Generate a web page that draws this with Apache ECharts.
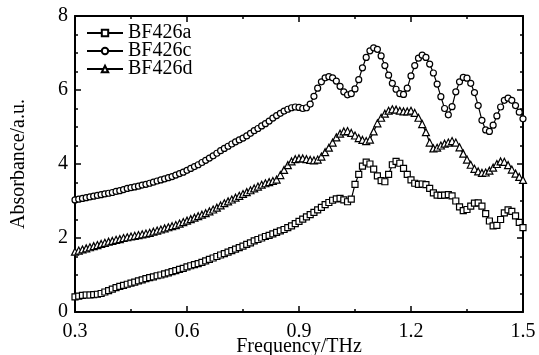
<!DOCTYPE html>
<html>
<head>
<meta charset="utf-8">
<script src="https://cdn.jsdelivr.net/npm/echarts@6/dist/echarts.min.js"></script>
<style>
  html, body { margin: 0; padding: 0; background: #fff; }
  #chart { width: 539px; height: 355px; }
</style>
</head>
<body>
<div id="chart"></div>
<script>
const freq = [
  0.30, 0.31, 0.32, 0.33, 0.34, 0.35, 0.36, 0.37, 0.38, 0.39,
  0.40, 0.41, 0.42, 0.43, 0.44, 0.45, 0.46, 0.47, 0.48, 0.49,
  0.50, 0.51, 0.52, 0.53, 0.54, 0.55, 0.56, 0.57, 0.58, 0.59,
  0.60, 0.61, 0.62, 0.63, 0.64, 0.65, 0.66, 0.67, 0.68, 0.69,
  0.70, 0.71, 0.72, 0.73, 0.74, 0.75, 0.76, 0.77, 0.78, 0.79,
  0.80, 0.81, 0.82, 0.83, 0.84, 0.85, 0.86, 0.87, 0.88, 0.89,
  0.90, 0.91, 0.92, 0.93, 0.94, 0.95, 0.96, 0.97, 0.98, 0.99,
  1.00, 1.01, 1.02, 1.03, 1.04, 1.05, 1.06, 1.07, 1.08, 1.09,
  1.10, 1.11, 1.12, 1.13, 1.14, 1.15, 1.16, 1.17, 1.18, 1.19,
  1.20, 1.21, 1.22, 1.23, 1.24, 1.25, 1.26, 1.27, 1.28, 1.29,
  1.30, 1.31, 1.32, 1.33, 1.34, 1.35, 1.36, 1.37, 1.38, 1.39,
  1.40, 1.41, 1.42, 1.43, 1.44, 1.45, 1.46, 1.47, 1.48, 1.49,
  1.50
]

// BF426a (squares)
const bf426a = [
  0.41, 0.43, 0.45, 0.46, 0.46, 0.47, 0.48, 0.50, 0.54, 0.58,
  0.62, 0.66, 0.69, 0.72, 0.75, 0.78, 0.81, 0.84, 0.87, 0.90,
  0.93, 0.95, 0.98, 1.00, 1.03, 1.06, 1.09, 1.12, 1.15, 1.18,
  1.22, 1.25, 1.28, 1.31, 1.34, 1.38, 1.42, 1.46, 1.50, 1.54,
  1.58, 1.62, 1.66, 1.70, 1.74, 1.78, 1.83, 1.87, 1.92, 1.96,
  2.00, 2.04, 2.07, 2.11, 2.15, 2.19, 2.23, 2.28, 2.33, 2.39,
  2.45, 2.51, 2.57, 2.63, 2.69, 2.76, 2.83, 2.90, 2.96, 3.02,
  3.06, 3.07, 3.03, 2.98, 3.05, 3.45, 3.72, 3.94, 4.05, 4.00,
  3.86, 3.68, 3.55, 3.52, 3.72, 3.98, 4.07, 4.02, 3.88, 3.72,
  3.57, 3.48, 3.45, 3.46, 3.44, 3.34, 3.22, 3.16, 3.15, 3.16,
  3.17, 3.14, 3.00, 2.84, 2.74, 2.77, 2.86, 2.94, 2.95, 2.86,
  2.66, 2.46, 2.33, 2.34, 2.50, 2.68, 2.76, 2.72, 2.60, 2.42,
  2.28
]

// BF426c (circles)
const bf426c = [
  3.03, 3.05, 3.07, 3.09, 3.11, 3.13, 3.15, 3.17, 3.19, 3.21,
  3.23, 3.26, 3.28, 3.31, 3.34, 3.36, 3.38, 3.40, 3.43, 3.45,
  3.48, 3.51, 3.54, 3.57, 3.60, 3.63, 3.66, 3.70, 3.74, 3.78,
  3.83, 3.88, 3.93, 3.98, 4.04, 4.10, 4.16, 4.22, 4.29, 4.36,
  4.42, 4.48, 4.54, 4.60, 4.65, 4.70, 4.76, 4.83, 4.90, 4.96,
  5.03, 5.09, 5.16, 5.24, 5.31, 5.37, 5.43, 5.48, 5.52, 5.54,
  5.53, 5.50, 5.52, 5.62, 5.83, 6.05, 6.22, 6.33, 6.36, 6.33,
  6.24, 6.10, 5.95, 5.87, 5.90, 6.03, 6.28, 6.60, 6.88, 7.06,
  7.14, 7.10, 6.92, 6.66, 6.40, 6.18, 6.02, 5.90, 5.88, 6.05,
  6.38, 6.66, 6.86, 6.94, 6.88, 6.70, 6.46, 6.16, 5.82, 5.50,
  5.33, 5.55, 5.95, 6.22, 6.34, 6.32, 6.18, 5.93, 5.58, 5.18,
  4.92, 4.88, 5.05, 5.30, 5.54, 5.72, 5.78, 5.72, 5.58, 5.40,
  5.22
]

// BF426d (triangles)
const bf426d = [
  1.63, 1.66, 1.69, 1.72, 1.75, 1.78, 1.81, 1.84, 1.87, 1.90,
  1.92, 1.95, 1.97, 2.00, 2.02, 2.04, 2.06, 2.08, 2.10, 2.12,
  2.14, 2.17, 2.20, 2.23, 2.26, 2.29, 2.32, 2.35, 2.39, 2.43,
  2.47, 2.51, 2.55, 2.59, 2.63, 2.67, 2.72, 2.77, 2.82, 2.88,
  2.94, 2.99, 3.04, 3.09, 3.14, 3.19, 3.24, 3.29, 3.34, 3.39,
  3.44, 3.48, 3.51, 3.54, 3.58, 3.70, 3.84, 3.97, 4.07, 4.13,
  4.15, 4.15, 4.13, 4.11, 4.10, 4.12, 4.20, 4.32, 4.44, 4.58,
  4.72, 4.82, 4.88, 4.89, 4.84, 4.77, 4.70, 4.65, 4.62, 4.66,
  4.88, 5.10, 5.25, 5.36, 5.44, 5.48, 5.47, 5.44, 5.42, 5.42,
  5.44, 5.38, 5.25, 5.08, 4.86, 4.58, 4.42, 4.44, 4.50, 4.55,
  4.58, 4.62, 4.58, 4.45, 4.28, 4.12, 3.98, 3.87, 3.80, 3.76,
  3.77, 3.82, 3.90, 4.00, 4.07, 4.06, 3.97, 3.85, 3.74, 3.65,
  3.57
]

const FONT = 'Liberation Serif'
const BLACK = '#000'

const chart = echarts.init(document.getElementById('chart'))

const pairs = (ys) => freq.map((x, i) => [x, ys[i]])

const makeSeries = (name, ys, symbol, size) => ({
  name: name,
  type: 'line',
  data: pairs(ys),
  symbol: symbol,
  symbolSize: size,
  showAllSymbol: true,
  lineStyle: { color: BLACK, width: 1.2 },
  itemStyle: { color: '#fff', borderColor: BLACK, borderWidth: 1.2 },
  emphasis: { disabled: true }
})

const frameX = (pos, showLabel) => ({
  type: 'value',
  position: pos,
  min: 0.3,
  max: 1.5,
  interval: 0.3,
  axisLine: { show: true, onZero: false, lineStyle: { color: BLACK, width: 2 } },
  axisTick: { show: true, inside: true, length: 6, lineStyle: { color: BLACK, width: 1.5 } },
  minorTick: { show: true, splitNumber: 2, length: 3, lineStyle: { color: BLACK, width: 1.5 } },
  splitLine: { show: false },
  axisLabel: {
    show: showLabel,
    color: BLACK,
    fontFamily: FONT,
    fontSize: 20,
    margin: 10,
    formatter: (v) => v.toFixed(1)
  }
})

const frameY = (pos, showLabel) => ({
  type: 'value',
  position: pos,
  min: 0,
  max: 8,
  interval: 2,
  axisLine: { show: true, onZero: false, lineStyle: { color: BLACK, width: 2 } },
  axisTick: { show: true, inside: true, length: 6, lineStyle: { color: BLACK, width: 1.5 } },
  minorTick: { show: true, splitNumber: 4, length: 3, lineStyle: { color: BLACK, width: 1.5 } },
  splitLine: { show: false },
  axisLabel: {
    show: showLabel,
    color: BLACK,
    fontFamily: FONT,
    fontSize: 20,
    margin: 7
  }
})

const xBottom = Object.assign(frameX('bottom', true), {
  name: 'Frequency/THz',
  nameLocation: 'middle',
  nameGap: 25,
  nameMoveOverlap: false,
  nameTextStyle: { color: BLACK, fontFamily: FONT, fontSize: 20 }
})
const yLeft = Object.assign(frameY('left', true), {
  name: 'Absorbance/a.u.',
  nameLocation: 'middle',
  nameGap: 46,
  nameMoveOverlap: false,
  nameTextStyle: { color: BLACK, fontFamily: FONT, fontSize: 20 }
})

chart.setOption({
  animation: false,
  backgroundColor: '#fff',
  grid: { left: 75, right: 16, top: 16, bottom: 43, outerBoundsMode: 'none' },
  legend: {
    left: 86,
    top: 23,
    orient: 'vertical',
    padding: 0,
    itemGap: -2,
    itemWidth: 36,
    itemHeight: 8,
    textStyle: { color: BLACK, fontFamily: FONT, fontSize: 20, lineHeight: 18 },
    data: ['BF426a', 'BF426c', 'BF426d']
  },
  xAxis: [xBottom, frameX('top', false)],
  yAxis: [yLeft, frameY('right', false)],
  series: [
    makeSeries('BF426a', bf426a, 'rect', 6),
    makeSeries('BF426c', bf426c, 'circle', 6),
    makeSeries('BF426d', bf426d, 'triangle', 7)
  ]
})
</script>
</body>
</html>
